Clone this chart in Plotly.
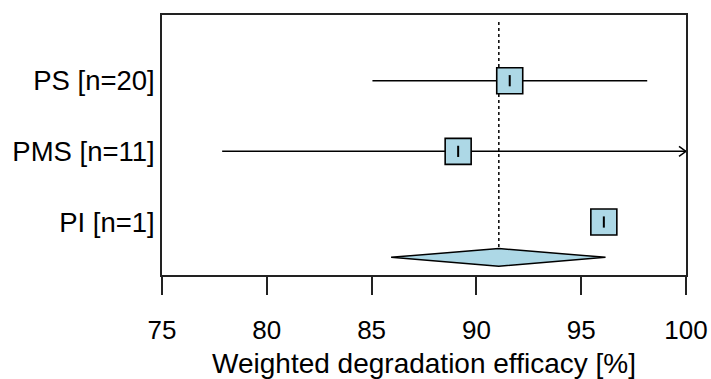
import plotly.graph_objects as go

# ---- data ----
study_labels = ["PS [n=20]", "PMS [n=11]", "PI [n=1]"]
row_pos = [4, 3, 2]
estimates = [91.59, 89.13, 96.08]
ci_lower = [85.04, 77.87, 96.08]
ci_upper = [98.15, 100.4, 96.08]

summary_est = 91.07
summary_lower = 85.93
summary_upper = 96.16
summary_row = 1.5

x_ticks = [75, 80, 85, 90, 95, 100]
x_title = "Weighted degradation efficacy [%]"

# ---- layout constants ----
W, H = 711, 379
ML, MR, MT, MB = 162, 25, 15, 104
XMIN, XMAX = 75, 100
YMIN, YMAX = 1.25, 4.93
px_per_x = (W - ML - MR) / (XMAX - XMIN)
px_per_y = (H - MT - MB) / (YMAX - YMIN)

FILL = "#ADD8E6"
BLACK = "#000000"
FONT = "Liberation Sans, Arial, sans-serif"

fig = go.Figure()

# reference dotted line at summary estimate
fig.add_trace(go.Scatter(
    x=[summary_est, summary_est], y=[4.83, summary_row + 0.125],
    mode="lines", line=dict(color=BLACK, width=1.5, dash="dot"),
    hoverinfo="skip", showlegend=False))

# whiskers (clipped at axis max, arrow if beyond)
wx, wy = [], []
ax_, ay_ = [], []
for lo, hi, y in zip(ci_lower, ci_upper, row_pos):
    lo_c = max(lo, XMIN)
    hi_c = min(hi, XMAX)
    if hi_c > lo_c:
        wx += [lo_c, hi_c, None]
        wy += [y, y, None]
    if hi > XMAX:
        dx = 7 / px_per_x
        dy = 5 / px_per_y
        ax_ += [XMAX - dx, XMAX, XMAX - dx, None]
        ay_ += [y + dy, y, y - dy, None]
fig.add_trace(go.Scatter(x=wx, y=wy, mode="lines",
                         line=dict(color=BLACK, width=1.5),
                         hoverinfo="skip", showlegend=False))
if ax_:
    fig.add_trace(go.Scatter(x=ax_, y=ay_, mode="lines",
                             line=dict(color=BLACK, width=1.5),
                             cliponaxis=False,
                             hoverinfo="skip", showlegend=False))

# squares
fig.add_trace(go.Scatter(
    x=estimates, y=row_pos, mode="markers",
    marker=dict(symbol="square", size=26, color=FILL,
                line=dict(color=BLACK, width=1.6)),
    showlegend=False))
# point-estimate tick inside the squares
fig.add_trace(go.Scatter(
    x=estimates, y=row_pos, mode="markers",
    marker=dict(symbol="line-ns", size=8,
                line=dict(color=BLACK, width=2)),
    hoverinfo="skip", showlegend=False))

# summary diamond
h = 0.125
fig.add_trace(go.Scatter(
    x=[summary_lower, summary_est, summary_upper, summary_est, summary_lower],
    y=[summary_row, summary_row + h, summary_row, summary_row - h, summary_row],
    mode="lines", fill="toself", fillcolor=FILL,
    line=dict(color=BLACK, width=1.5),
    hoverinfo="skip", showlegend=False))

fig.update_layout(
    width=W, height=H,
    margin=dict(l=ML, r=MR, t=MT, b=MB, autoexpand=False),
    plot_bgcolor="white", paper_bgcolor="white",
    font=dict(family=FONT, color=BLACK),
    showlegend=False,
    xaxis=dict(
        range=[XMIN, XMAX], tickvals=x_ticks,
        ticktext=[str(t) for t in x_ticks],
        ticks="outside", ticklen=18, tickwidth=1.5, tickcolor="#222",
        showline=True, linecolor="#222", linewidth=1.5, mirror=True,
        showgrid=False, zeroline=False, automargin=False,
        ticklabelstandoff=13,
        tickfont=dict(size=26, family=FONT),
        title=dict(text=x_title, font=dict(size=28, family=FONT), standoff=9),
    ),
    yaxis=dict(
        range=[YMIN, YMAX], tickvals=row_pos, ticktext=study_labels,
        ticks="", showline=True, linecolor="#222", linewidth=1.5, mirror=True,
        showgrid=False, zeroline=False, automargin=False,
        tickfont=dict(size=27.5, family=FONT),
    ),
)

fig.write_html(
    "out.html",
    config={"displayModeBar": False},
    post_script="document.body.style.margin='0';document.body.style.overflow='hidden';",
)
